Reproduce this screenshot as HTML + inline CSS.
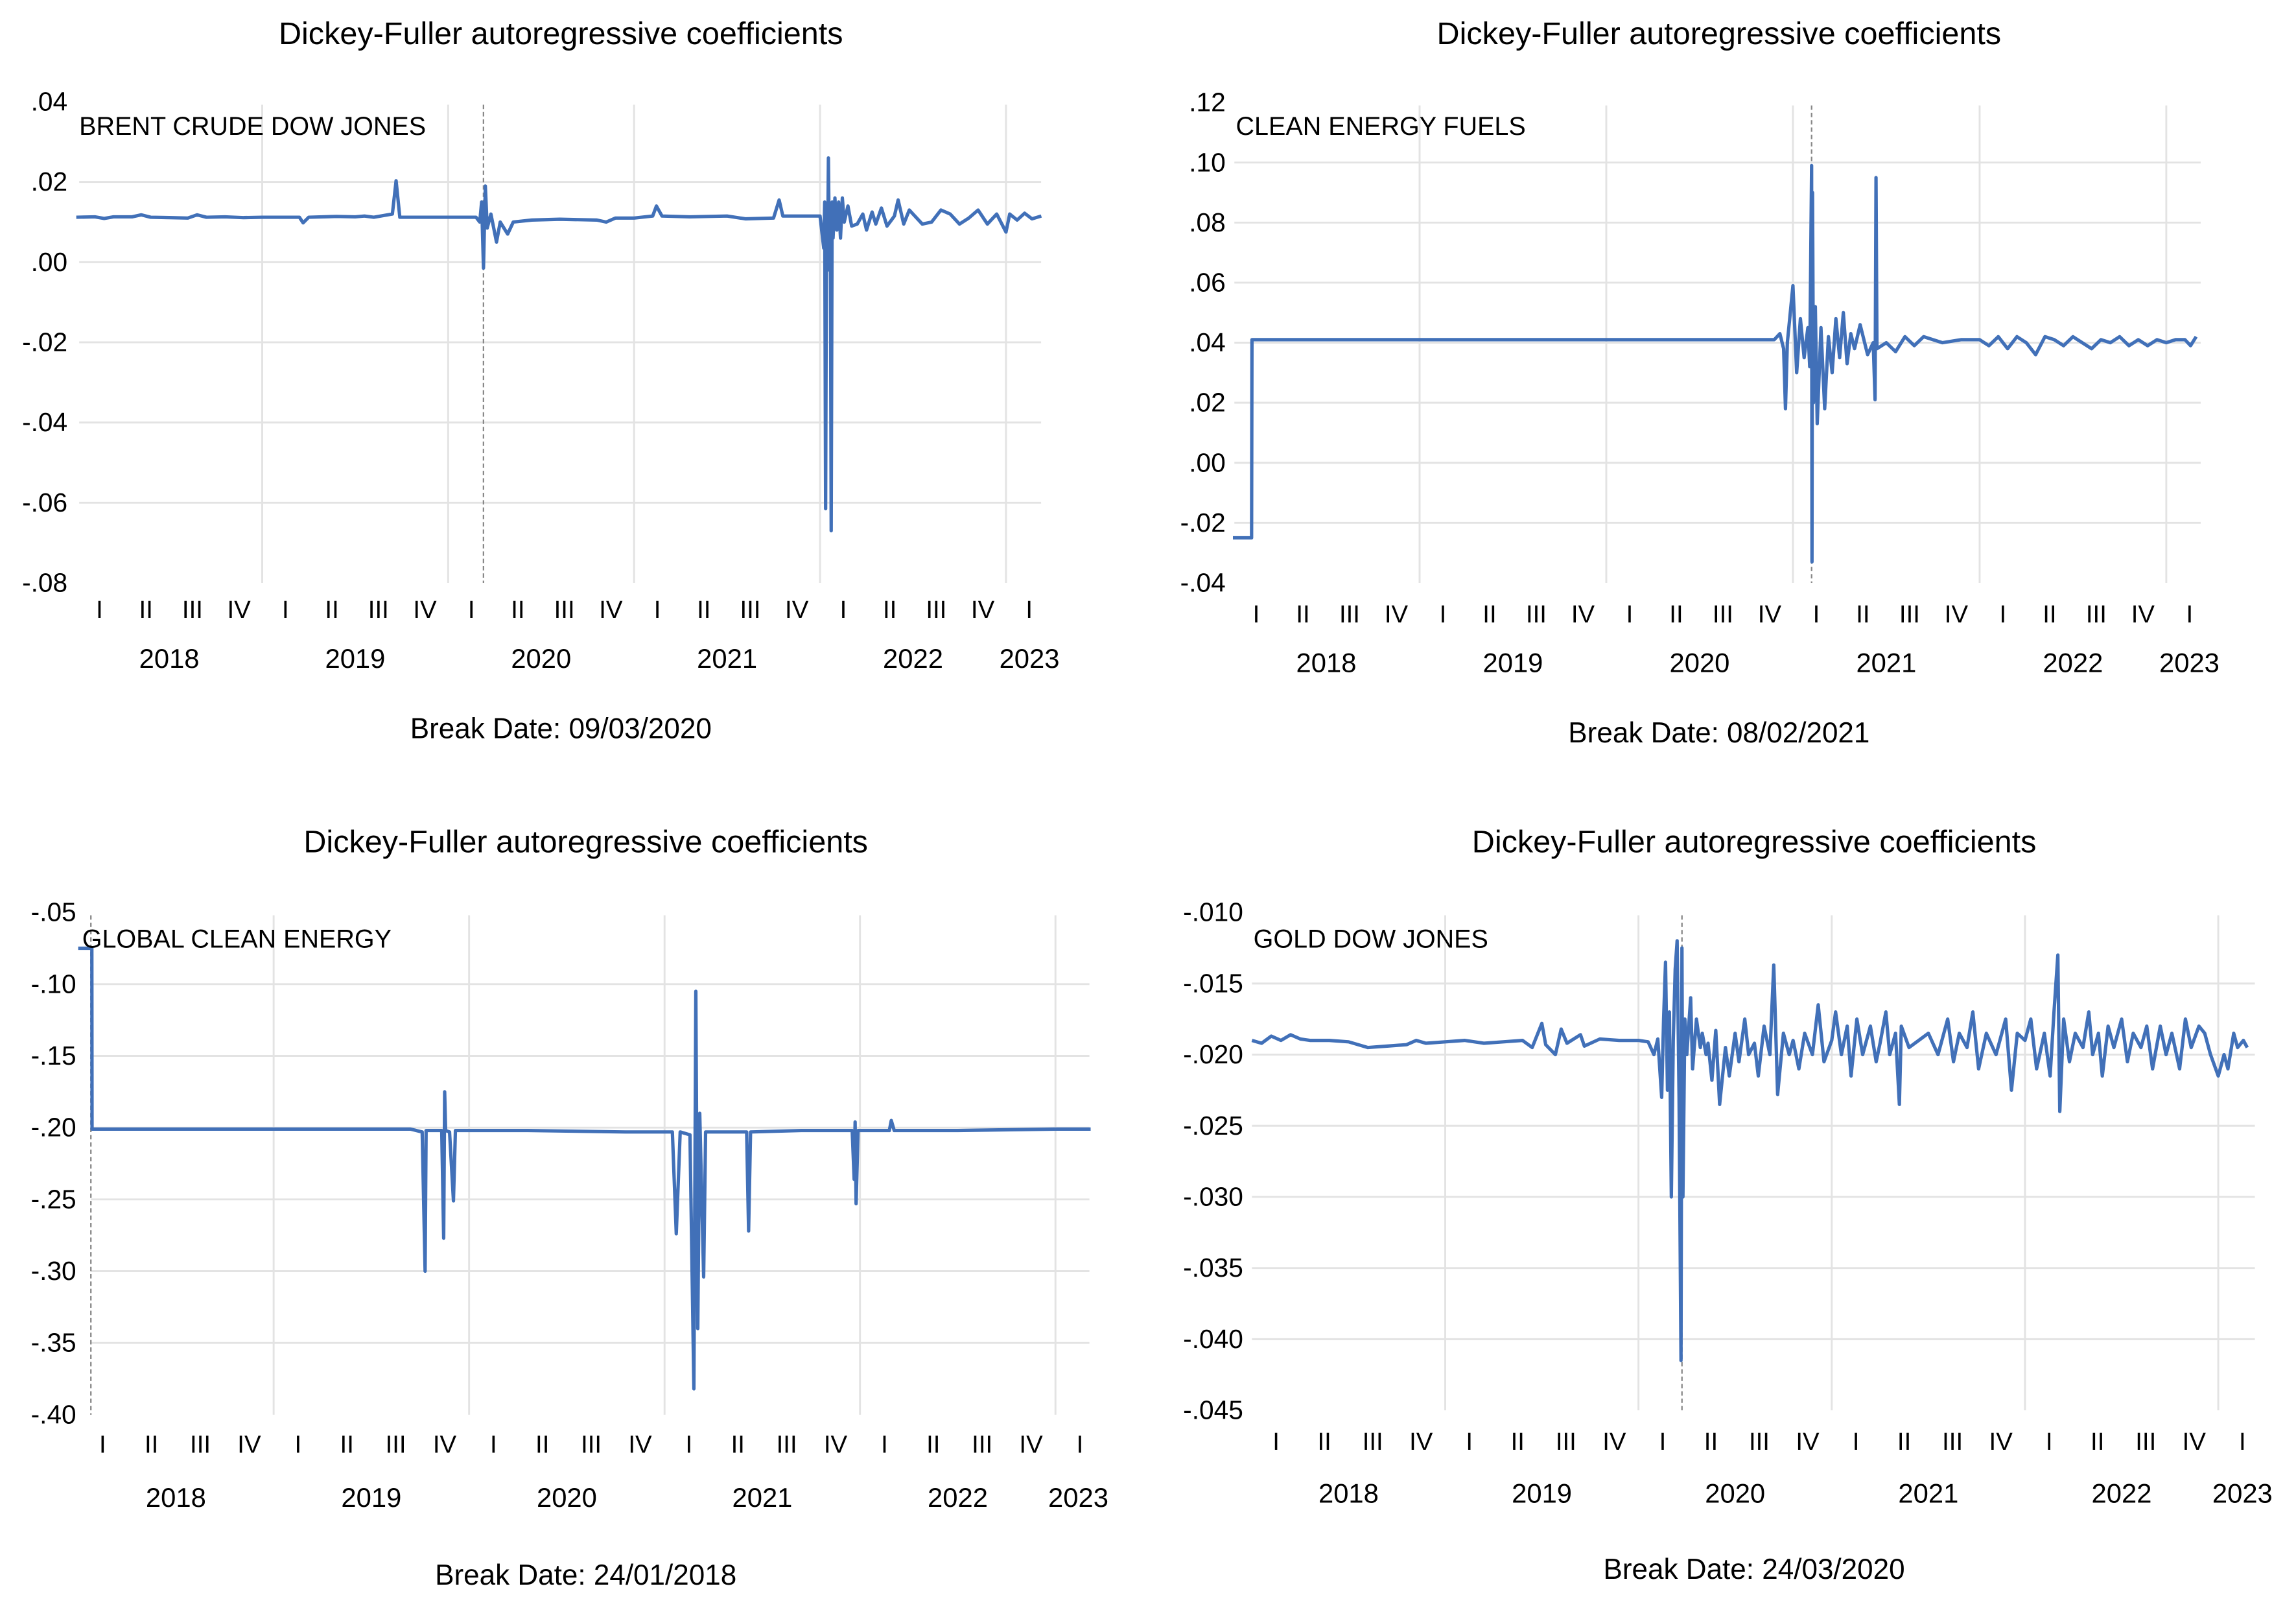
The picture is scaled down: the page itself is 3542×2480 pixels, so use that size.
<!DOCTYPE html>
<html><head><meta charset="utf-8">
<style>
html,body{margin:0;padding:0;background:#fff;}
svg{display:block;font-family:"Liberation Sans Narrow","Liberation Sans",sans-serif;}
</style></head>
<body>
<svg id="root" width="3542" height="2480" viewBox="0 0 1568 1098" xmlns="http://www.w3.org/2000/svg">
<rect width="1568" height="1098" fill="#fff"/>
</svg>
<script>
// ---- Chart 1: Brent crude Dow Jones ----
const brentDates = [2018.0,2018.1,2018.15,2018.2,2018.3,2018.35,2018.4,2018.5,2018.6,2018.65,2018.7,2018.8,2018.9,2019.0,2019.1,2019.2,2019.22,2019.25,2019.4,2019.5,2019.55,2019.6,2019.7,2019.72,2019.74,2019.9,2020.0,2020.15,2020.17,2020.18,2020.19,2020.2,2020.21,2020.23,2020.26,2020.28,2020.32,2020.35,2020.45,2020.6,2020.8,2020.85,2020.9,2021.0,2021.1,2021.12,2021.15,2021.3,2021.5,2021.6,2021.75,2021.78,2021.8,2021.9,2022.0,2022.02,2022.025,2022.03,2022.035,2022.04,2022.045,2022.05,2022.055,2022.06,2022.065,2022.07,2022.08,2022.09,2022.1,2022.11,2022.12,2022.13,2022.15,2022.17,2022.2,2022.23,2022.25,2022.28,2022.3,2022.33,2022.36,2022.4,2022.42,2022.45,2022.48,2022.5,2022.55,2022.6,2022.65,2022.7,2022.75,2022.8,2022.85,2022.9,2022.95,2023.0,2023.02,2023.06,2023.1,2023.14,2023.19];
const brentValues = [.0112,.0113,.0109,.0113,.0113,.0118,.0112,.0111,.011,.0118,.0112,.0113,.0111,.0112,.0112,.0112,.0098,.0112,.0114,.0113,.0115,.0112,.012,.0203,.0112,.0112,.0112,.0112,.01,.015,-.0015,.019,.0085,.012,.005,.01,.007,.01,.0105,.0107,.0105,.01,.011,.011,.0115,.014,.0115,.0113,.0115,.0108,.011,.0155,.0115,.0115,.0115,.0035,.015,-.0615,.014,-.002,.026,.002,.014,-.067,.015,.006,.016,.008,.015,.006,.016,.01,.014,.009,.0095,.012,.008,.0125,.0095,.0135,.009,.0115,.0155,.0095,.013,.012,.0095,.01,.013,.012,.0095,.011,.013,.0095,.012,.0075,.012,.0105,.0122,.0108,.0115];
const brentTicks = [.04,.02,0,-.02,-.04,-.06,-.08];
const brentTickLabels = [".04",".02",".00","-.02","-.04","-.06","-.08"];

// ---- Chart 2: Clean energy fuels ----
const fuelsDates = [2018.0,2018.1,2018.102,2019.0,2020.0,2020.9,2020.93,2020.95,2020.96,2020.97,2021.0,2021.02,2021.04,2021.06,2021.08,2021.09,2021.1,2021.102,2021.105,2021.11,2021.12,2021.13,2021.15,2021.17,2021.19,2021.21,2021.23,2021.25,2021.27,2021.29,2021.31,2021.33,2021.36,2021.4,2021.43,2021.44,2021.445,2021.45,2021.5,2021.55,2021.6,2021.65,2021.7,2021.8,2021.9,2022.0,2022.05,2022.1,2022.15,2022.2,2022.25,2022.3,2022.35,2022.4,2022.45,2022.5,2022.55,2022.6,2022.65,2022.7,2022.75,2022.8,2022.85,2022.9,2022.95,2023.0,2023.05,2023.1,2023.13,2023.16];
const fuelsValues = [-.025,-.025,.041,.041,.041,.041,.043,.038,.018,.04,.059,.03,.048,.035,.045,.032,.099,-.033,.09,.02,.052,.013,.045,.018,.042,.03,.048,.035,.05,.033,.043,.038,.046,.036,.04,.021,.095,.038,.04,.037,.042,.039,.042,.040,.041,.041,.039,.042,.038,.042,.04,.036,.042,.041,.039,.042,.04,.038,.041,.040,.042,.039,.041,.039,.041,.040,.041,.041,.039,.042];
const fuelsTicks = [.12,.10,.08,.06,.04,.02,0,-.02,-.04];
const fuelsTickLabels = [".12",".10",".08",".06",".04",".02",".00","-.02","-.04"];

// ---- Chart 3: Global clean energy ----
const globalDates = [2018.0,2018.07,2018.071,2019.0,2019.7,2019.76,2019.775,2019.78,2019.86,2019.87,2019.875,2019.88,2019.9,2019.92,2019.93,2020.3,2020.8,2021.04,2021.06,2021.08,2021.13,2021.15,2021.16,2021.17,2021.18,2021.2,2021.21,2021.25,2021.42,2021.43,2021.44,2021.7,2021.96,2021.97,2021.975,2021.98,2021.99,2022.15,2022.16,2022.175,2022.5,2023.0,2023.18];
const globalValues = [-.075,-.075,-.201,-.201,-.201,-.203,-.300,-.202,-.202,-.277,-.175,-.202,-.203,-.251,-.202,-.202,-.203,-.203,-.274,-.203,-.205,-.382,-.105,-.340,-.190,-.304,-.203,-.203,-.203,-.272,-.203,-.202,-.202,-.236,-.196,-.253,-.202,-.202,-.195,-.202,-.202,-.201,-.201];
const globalTicks = [-.05,-.10,-.15,-.20,-.25,-.30,-.35,-.40];
const globalTickLabels = ["-.05","-.10","-.15","-.20","-.25","-.30","-.35","-.40"];

// ---- Chart 4: Gold Dow Jones ----
const goldDates = [2018.0,2018.05,2018.1,2018.15,2018.2,2018.25,2018.3,2018.4,2018.5,2018.6,2018.7,2018.8,2018.85,2018.9,2019.0,2019.1,2019.2,2019.3,2019.4,2019.45,2019.5,2019.52,2019.57,2019.6,2019.63,2019.7,2019.72,2019.8,2019.9,2020.0,2020.05,2020.08,2020.1,2020.12,2020.13,2020.14,2020.15,2020.16,2020.17,2020.18,2020.19,2020.2,2020.21,2020.22,2020.225,2020.23,2020.24,2020.25,2020.27,2020.28,2020.3,2020.32,2020.33,2020.35,2020.36,2020.38,2020.4,2020.42,2020.45,2020.47,2020.5,2020.52,2020.55,2020.57,2020.6,2020.62,2020.65,2020.68,2020.7,2020.72,2020.75,2020.78,2020.8,2020.83,2020.86,2020.9,2020.93,2020.96,2021.0,2021.02,2021.05,2021.08,2021.1,2021.13,2021.16,2021.2,2021.23,2021.25,2021.28,2021.3,2021.33,2021.35,2021.36,2021.4,2021.45,2021.5,2021.55,2021.6,2021.63,2021.66,2021.7,2021.73,2021.76,2021.8,2021.85,2021.9,2021.93,2021.96,2022.0,2022.03,2022.06,2022.1,2022.13,2022.15,2022.17,2022.18,2022.2,2022.23,2022.26,2022.3,2022.33,2022.35,2022.38,2022.4,2022.43,2022.46,2022.5,2022.53,2022.56,2022.6,2022.63,2022.66,2022.7,2022.73,2022.76,2022.8,2022.83,2022.86,2022.9,2022.93,2022.96,2023.0,2023.03,2023.05,2023.08,2023.1,2023.13,2023.15,2023.18];
const goldValues = [-.0190,-.0192,-.0187,-.0190,-.0186,-.0189,-.0190,-.0190,-.0191,-.0195,-.0194,-.0193,-.0190,-.0192,-.0191,-.0190,-.0192,-.0191,-.0190,-.0195,-.0178,-.0193,-.0200,-.0182,-.0192,-.0186,-.0194,-.0189,-.0190,-.0190,-.0191,-.0200,-.0189,-.0230,-.0175,-.0135,-.0225,-.0170,-.0300,-.0190,-.0140,-.0120,-.0230,-.0415,-.0125,-.0300,-.0175,-.0200,-.0160,-.0210,-.0175,-.0195,-.0185,-.0200,-.0192,-.0218,-.0183,-.0235,-.0195,-.0215,-.0185,-.0205,-.0175,-.0200,-.0192,-.0215,-.0180,-.0200,-.0137,-.0228,-.0185,-.0200,-.0190,-.0210,-.0185,-.0200,-.0165,-.0205,-.0190,-.0170,-.0200,-.0180,-.0215,-.0175,-.0200,-.0180,-.0205,-.0192,-.0170,-.0200,-.0185,-.0235,-.0180,-.0195,-.0190,-.0185,-.0200,-.0175,-.0205,-.0185,-.0195,-.0170,-.0210,-.0185,-.0200,-.0175,-.0225,-.0185,-.0190,-.0175,-.0210,-.0185,-.0215,-.0170,-.0130,-.0240,-.0175,-.0205,-.0185,-.0195,-.0170,-.0200,-.0185,-.0215,-.0180,-.0195,-.0175,-.0205,-.0185,-.0195,-.0180,-.0210,-.0180,-.0200,-.0185,-.0210,-.0175,-.0195,-.0180,-.0185,-.0200,-.0215,-.0200,-.0210,-.0185,-.0195,-.0190,-.0195];
const goldTicks = [-.010,-.015,-.020,-.025,-.030,-.035,-.040,-.045];
const goldTickLabels = ["-.010","-.015","-.020","-.025","-.030","-.035","-.040","-.045"];

const yearLabels = ["2018","2019","2020","2021","2022","2023"];
const quarterLabels = ["I","II","III","IV"];

const NS = "http://www.w3.org/2000/svg";
const root = document.getElementById('root');
function mk(tag, attrs, parent, text){
  const e = document.createElementNS(NS, tag);
  for (const k in attrs) e.setAttribute(k, attrs[k]);
  if (text !== undefined) e.textContent = text;
  parent.appendChild(e);
  return e;
}

function drawChart(c){
  const g = mk('g', {}, root);
  
  
  const xs = t => c.x0 + (t - 2018) * c.ppy;
  const ys = v => c.yTopPx + (c.yTopVal - v) / (c.yTopVal - c.yBotVal) * (c.yBotPx - c.yTopPx);
  const top = c.yTopPx + 2, bot = c.yBotPx;
  c.ticks.forEach((v, i) => {
    if (i > 0 && i < c.ticks.length - 1) {
      const l = mk('line', {x1: c.left, x2: c.right, y1: ys(v), y2: ys(v), stroke: '#e3e3e3', 'stroke-width': 1.3}, g);
      
      
    }
    const t = mk('text', {x: c.labelX, y: ys(v) + 6, 'text-anchor': 'end', 'font-size': 18, fill: '#000'}, g, c.tickLabels[i]);
    
    
  });
  for (let y = 0; y < 6; y++) {
    const ys0 = xs(2018 + y);
    if (y > 0) {
      const l = mk('line', {x1: ys0, x2: ys0, y1: top, y2: bot, stroke: '#e3e3e3', 'stroke-width': 1.3}, g);
      
      
    }
    const nq = y < 5 ? 4 : 1;
    for (let q = 0; q < nq; q++) {
      const qt = mk('text', {x: xs(2018 + y + q * 0.25 + 0.125), y: c.qY, 'text-anchor': 'middle', 'font-size': 17, fill: '#000'}, g, quarterLabels[q]);
      
      
    }
    const cx = y < 5 ? xs(2018 + y + 0.5) : (ys0 + c.right) / 2 + 4;
    const yt = mk('text', {x: cx, y: c.yearY, 'text-anchor': 'middle', 'font-size': 18.5, fill: '#000'}, g, yearLabels[y]);
    
    
  }
  const bx = xs(c.breakT);
  const bl = mk('line', {x1: bx, x2: bx, y1: top, y2: bot, stroke: '#888', 'stroke-width': 1, 'stroke-dasharray': '3,2'}, g);
  
  
  const pts = c.dates.map((d, i) => xs(d).toFixed(2) + ',' + ys(c.values[i]).toFixed(2)).join(' ');
  const pl = mk('polyline', {points: pts, fill: 'none', stroke: '#4170b8', 'stroke-width': 2.3, 'stroke-linejoin': 'round'}, g);
  
  
  const tt = mk('text', {x: c.titleX, y: c.titleY, 'text-anchor': 'middle', 'font-size': 21.5, fill: '#000'}, g, 'Dickey-Fuller autoregressive coefficients');
  
  
  const sl = mk('text', {x: c.serX, y: c.serY, 'font-size': 17.5, fill: '#000'}, g, c.series);
  
  
  const bd = mk('text', {x: c.titleX, y: c.bdY, 'text-anchor': 'middle', 'font-size': 19.5, fill: '#000'}, g, 'Break Date: ' + c.breakText);
  
  
}

drawChart({name:'chart-brent-crude', dates:brentDates, values:brentValues, ticks:brentTicks, tickLabels:brentTickLabels,
  x0:52, ppy:127, left:54, right:711, yTopVal:.04, yTopPx:69.5, yBotVal:-.08, yBotPx:398, labelX:46,
  qY:422, yearY:456, titleX:383, titleY:30, serX:54, serY:92, series:'BRENT CRUDE DOW JONES', bdY:504, breakT:2020.19, breakText:'09/03/2020'});
drawChart({name:'chart-clean-energy-fuels', dates:fuelsDates, values:fuelsValues, ticks:fuelsTicks, tickLabels:fuelsTickLabels,
  x0:842, ppy:127.5, left:843, right:1503, yTopVal:.12, yTopPx:70, yBotVal:-.04, yBotPx:398, labelX:837,
  qY:425, yearY:459, titleX:1174, titleY:30, serX:844, serY:92, series:'CLEAN ENERGY FUELS', bdY:507, breakT:2021.1, breakText:'08/02/2021'});
drawChart({name:'chart-global-clean-energy', dates:globalDates, values:globalValues, ticks:globalTicks, tickLabels:globalTickLabels,
  x0:53.3, ppy:133.5, left:62, right:744, yTopVal:-.05, yTopPx:623, yBotVal:-.40, yBotPx:966, labelX:52,
  qY:992, yearY:1029, titleX:400, titleY:582, serX:56, serY:647, series:'GLOBAL CLEAN ENERGY', bdY:1082, breakT:2018.065, breakText:'24/01/2018'});
drawChart({name:'chart-gold-dow-jones', dates:goldDates, values:goldValues, ticks:goldTicks, tickLabels:goldTickLabels,
  x0:855, ppy:132, left:855, right:1540, yTopVal:-.010, yTopPx:623, yBotVal:-.045, yBotPx:963, labelX:849,
  qY:990, yearY:1026, titleX:1198, titleY:582, serX:856, serY:647, series:'GOLD DOW JONES', bdY:1078, breakT:2020.225, breakText:'24/03/2020'});
</script>
</body></html>
